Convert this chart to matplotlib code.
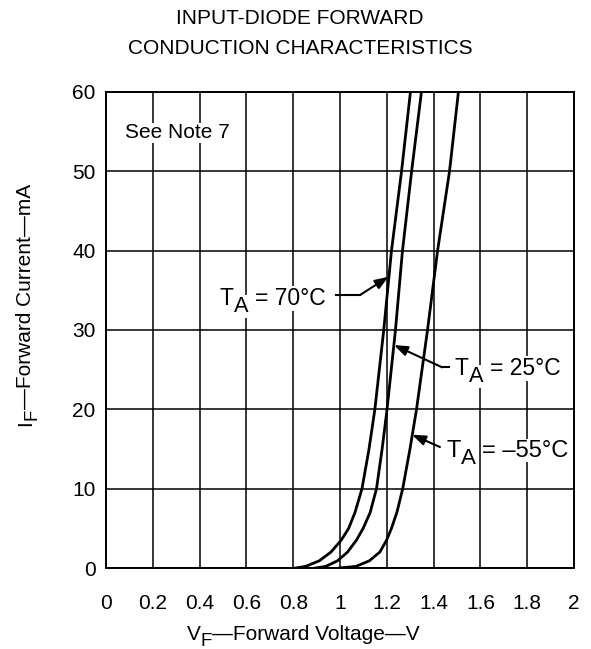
import matplotlib
matplotlib.use("Agg")
import numpy as np
import matplotlib.pyplot as plt
from matplotlib.transforms import offset_copy

plt.rcParams['font.family'] = ['Liberation Sans', 'DejaVu Sans']

# Data
current_mA = [0, 0.2, 0.9, 2, 3.5, 5, 7, 10, 15, 20, 30, 40, 50, 60]
v_70C = [0.81, 0.853, 0.911, 0.961, 1.005, 1.037, 1.064, 1.094, 1.124, 1.149, 1.187, 1.22, 1.263, 1.301]
v_25C = [0.895, 0.939, 0.989, 1.032, 1.07, 1.099, 1.129, 1.156, 1.18, 1.201, 1.237, 1.267, 1.306, 1.348]
v_m55C = [0.997, 1.068, 1.125, 1.17, 1.199, 1.22, 1.243, 1.268, 1.299, 1.327, 1.374, 1.417, 1.468, 1.506]

x_ticks = [0, 0.2, 0.4, 0.6, 0.8, 1.0, 1.2, 1.4, 1.6, 1.8, 2.0]
x_tick_labels = ['0', '0.2', '0.4', '0.6', '0.8', '1', '1.2', '1.4', '1.6', '1.8', '2']
y_ticks = [0, 10, 20, 30, 40, 50, 60]

W, H = 591, 649
fig = plt.figure(figsize=(W / 100, H / 100), dpi=100)
ax = fig.add_axes([106 / W, 1 - 568 / H, 468 / W, 476 / H])
renderer = fig.canvas.get_renderer()

WHITE = dict(facecolor='white', edgecolor='none', pad=0.5)


def rich_text(x, y, parts, transform, fontsize, ha='left', rotation=0, bbox=None, zorder=5):
    """parts: list of (string, size_scale, baseline_shift_pt, gap_after_pt)."""
    widths = []
    for s, sc, sh, gap in parts:
        t = fig.text(0, 0, s, fontsize=fontsize * sc)
        widths.append(t.get_window_extent(renderer).width * 72 / fig.dpi)
        t.remove()
    total = sum(w + p[3] for w, p in zip(widths, parts)) - parts[-1][3]
    pos = {'left': 0, 'center': -total / 2, 'right': -total}[ha]
    th = np.deg2rad(rotation)
    ux, uy = np.cos(th), np.sin(th)
    nx, ny = -np.sin(th), np.cos(th)
    for (s, sc, sh, gap), w in zip(parts, widths):
        tr = offset_copy(transform, fig=fig, x=pos * ux + sh * nx, y=pos * uy + sh * ny, units='points')
        fig.text(x, y, s, transform=tr, fontsize=fontsize * sc, ha='left', va='baseline',
                 rotation=rotation, rotation_mode='anchor', bbox=bbox, zorder=zorder)
        pos += w + gap


ax.set_xlim(0, 2)
ax.set_ylim(0, 60)
ax.set_xticks(x_ticks)
ax.set_xticklabels(x_tick_labels)
ax.set_yticks(y_ticks)
ax.tick_params(length=0, labelsize=15)
ax.tick_params(axis='x', pad=19)
ax.tick_params(axis='y', pad=7.5)
ax.grid(True, color='black', linewidth=1.1, zorder=1)
ax.set_axisbelow(True)
for s in ax.spines.values():
    s.set_linewidth(1.4)

for v in (v_70C, v_25C, v_m55C):
    ax.plot(v, current_mA, color='black', linewidth=2.0, zorder=3, solid_joinstyle='round')

ax.text(0.081, 54.17, 'See Note 7', fontsize=15, va='baseline', ha='left', bbox=WHITE, zorder=5)

arrow_kw = dict(arrowstyle='-|>,head_length=0.8,head_width=0.3', color='black', lw=1.5,
                shrinkA=0, shrinkB=0)
LAB = 16.5
SUB = -5

# 70 C
ax.plot([0.985, 1.085], [34.4, 34.4], color='black', lw=1.5, zorder=4)
ax.annotate('', xy=(1.207, 36.7), xytext=(1.085, 34.4), arrowprops=arrow_kw, zorder=4)
rich_text(0.487, 33.15, [('T', 1, 0, 0), ('A', 0.95, SUB, 4.5), ('= 70°C', 1, 0, 0)],
          ax.transData, LAB, bbox=WHITE)

# 25 C
ax.plot([1.436, 1.465], [25.3, 25.3], color='black', lw=1.5, zorder=4)
ax.annotate('', xy=(1.231, 28.1), xytext=(1.436, 25.3), arrowprops=arrow_kw, zorder=4)
rich_text(1.491, 24.33, [('T', 1, 0, 0), ('A', 0.95, SUB, 4.5), ('= 25°C', 1, 0, 0)],
          ax.transData, LAB, bbox=WHITE)

# -55 C
ax.annotate('', xy=(1.308, 16.8), xytext=(1.427, 15.25), arrowprops=arrow_kw, zorder=4)
rich_text(1.456, 14.03, [('T', 1, 0, 0), ('A', 0.95, SUB, 4.5), ('= –55°C', 1, 0, 0)],
          ax.transData, 17, bbox=WHITE)

# Title
fig.text(300 / W, 1 - 18 / H, 'INPUT-DIODE FORWARD', ha='center', va='center', fontsize=15)
fig.text(300 / W, 1 - 48 / H, 'CONDUCTION CHARACTERISTICS', ha='center', va='center', fontsize=15)

# Axis labels
rich_text(303 / W, 1 - 640 / H, [('V', 1, 0, 0), ('F', 0.9, -4, 0), ('—Forward Voltage—V', 1, 0, 0)],
          fig.transFigure, 15, ha='center')
rich_text(31 / W, 1 - 305 / H, [('I', 1, 0, 0), ('F', 0.9, -4, 0), ('—Forward Current—mA', 1, 0, 0)],
          fig.transFigure, 15, ha='center', rotation=90)

fig.savefig('out.png', dpi=100)
